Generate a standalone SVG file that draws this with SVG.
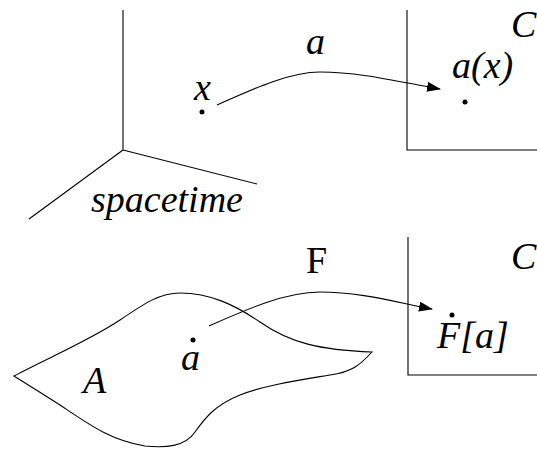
<svg xmlns="http://www.w3.org/2000/svg" width="537" height="450" viewBox="0 0 537 450">
<style>
.ln{fill:none;stroke:#000;stroke-width:1.1}
text{font-family:'Liberation Serif','Times New Roman',serif;font-size:38px;font-style:italic;fill:#000}
.r{font-style:normal}
.dot{fill:#000}
</style>
<defs>
<marker id="ah" markerWidth="14" markerHeight="10" refX="13" refY="5" orient="auto" markerUnits="userSpaceOnUse">
<path d="M0,0 L14,5 L0,10 Z" fill="#000"/>
</marker>
</defs>
<rect width="537" height="450" fill="#fff"/>
<g id="spacetime">
<path class="ln" d="M123,10 L123,150 M123,150 L257,184 M123,150 L29,219"/>
<text x="91" y="212">spacetime</text>
</g>
<g id="point-x">
<circle class="dot" cx="202" cy="112" r="2.5"/>
<text x="194" y="100">x</text>
</g>
<g id="target-C-top">
<path class="ln" d="M407,10 L407,150 L537,150"/>
<text x="511" y="37">C</text>
<text x="452" y="78">a(x)</text>
<circle class="dot" cx="465" cy="102" r="2.5"/>
</g>
<g id="region-A">
<path class="ln" d="M14,376 C50,357 90,340 120,320 C145,303 160,293 180,293 C210,293 235,305 260,322 C290,343 320,350 372,352 C360,365 352,372 330,375 C300,380 265,385 240,395 C215,405 205,418 195,432 C185,447 165,448 145,446 C110,440 90,425 60,405 C40,392 25,383 14,376 Z"/>
<text x="83" y="393">A</text>
<circle class="dot" cx="193" cy="340" r="2.5"/>
<text x="181" y="370">a</text>
</g>
<g id="target-C-bottom">
<path class="ln" d="M408,237 L408,375 L537,375"/>
<text x="511" y="269">C</text>
<circle class="dot" cx="452" cy="315" r="2.5"/>
<text x="437" y="348">F[a]</text>
</g>
<g id="connectors">
<path class="ln" d="M217,105 C255,88 290,72 320,72 C360,72 400,82 440,89" marker-end="url(#ah)"/>
<text x="306" y="54">a</text>
<path class="ln" d="M209,326 C245,310 285,292 320,292 C360,292 395,302 432,309" marker-end="url(#ah)"/>
<text class="r" x="306" y="273">F</text>
</g>
</svg>
